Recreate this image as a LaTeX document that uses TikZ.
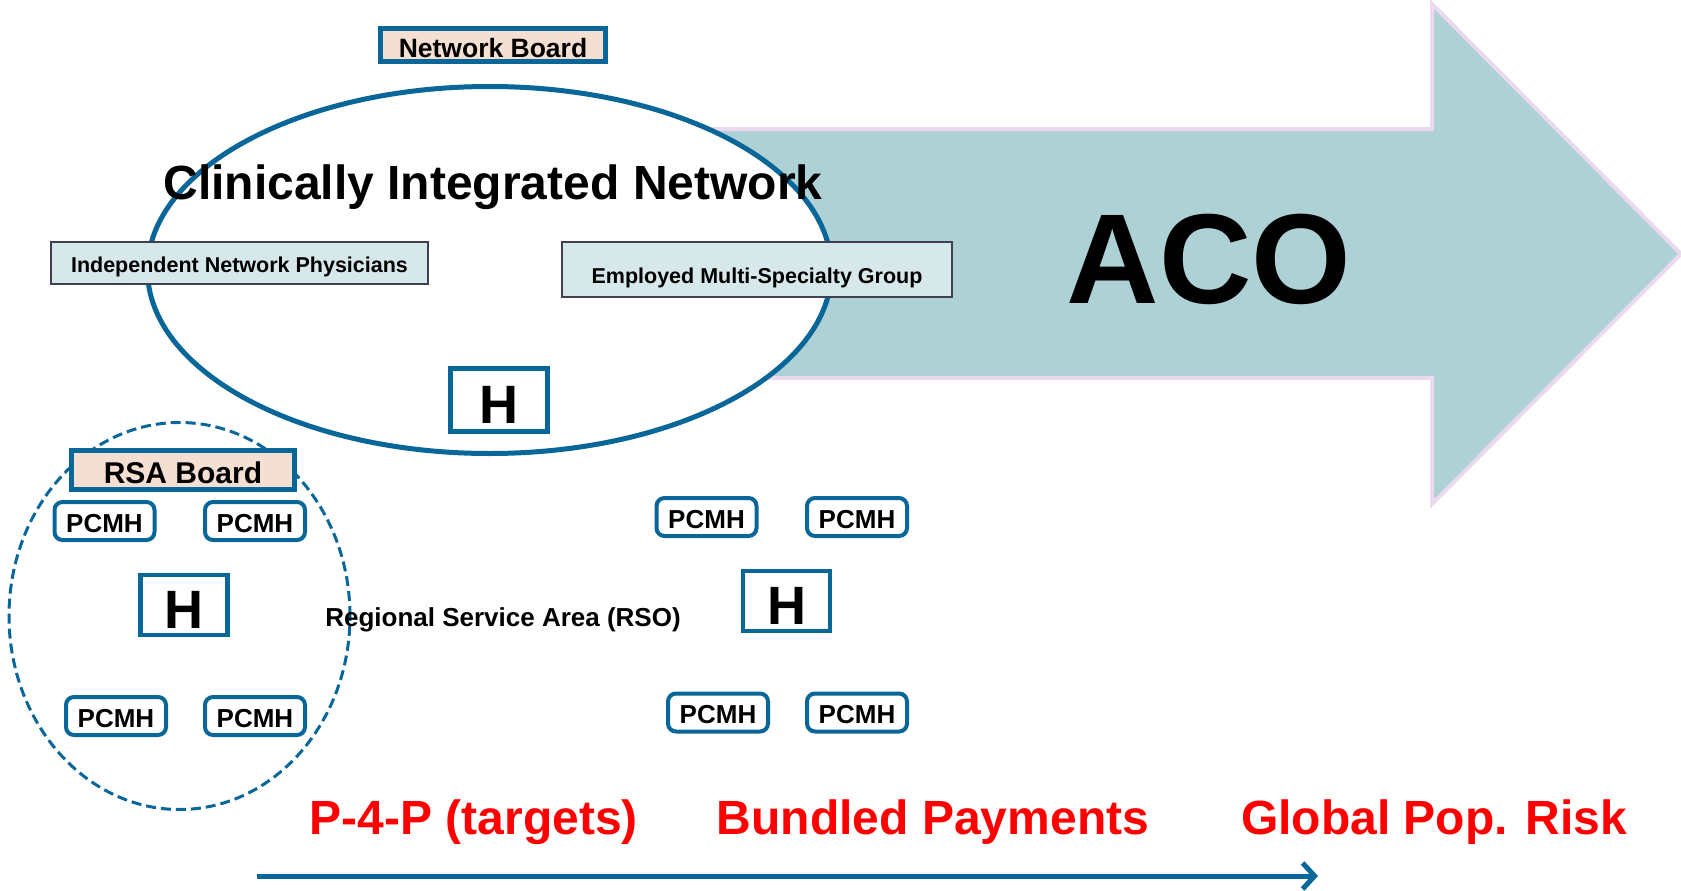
\documentclass[tikz,border=0pt]{standalone}
\usepackage{fontspec}
\setmainfont{Liberation Sans}
\usepackage{xcolor}
\usepackage{tikz}
\usetikzlibrary{shapes.geometric, arrows.meta, positioning}

\definecolor{cinblue}{RGB}{8,102,153}
\definecolor{boardfill}{RGB}{245,222,210}
\definecolor{groupfill}{RGB}{214,232,234}
\definecolor{groupline}{RGB}{64,64,80}
\definecolor{acofill}{RGB}{173,209,213}
\definecolor{acoline}{RGB}{235,218,238}
\definecolor{payred}{RGB}{255,0,0}

\begin{document}
\begin{tikzpicture}[
    x=1pt, y=-1pt,
    board/.style={rectangle, draw=cinblue, line width=4.5pt, fill=boardfill, inner sep=0pt, text depth=0pt, font=\bfseries\fontsize{26.5}{30}\selectfont},
    group/.style={rectangle, draw=groupline, line width=2pt, fill=groupfill, inner sep=0pt, text depth=0pt, font=\bfseries\fontsize{21.5}{25}\selectfont},
    pcmh/.style={rectangle, rounded corners=8pt, draw=cinblue, line width=4pt, fill=white, minimum width=100pt, minimum height=38pt, inner sep=0pt, text height=22pt, text depth=0pt, font=\bfseries\fontsize{26}{30}\selectfont},
    hosp/.style={rectangle, draw=cinblue, line width=4.5pt, fill=white, minimum width=87pt, minimum height=60pt, inner sep=0pt, text height=46pt, text depth=0pt, font=\bfseries\fontsize{54}{60}\selectfont},
    payment/.style={text=payred, anchor=base, inner sep=0pt, font=\bfseries\fontsize{48}{56}\selectfont},
    arrow/.style={-{Straight Barb[length=12pt, width=26pt]}, line width=5pt, draw=cinblue}
]
\useasboundingbox (0,0) rectangle (1681,891);

% ACO arrow (sits behind the network)
\filldraw[fill=acofill, draw=acoline, line width=4pt, line join=miter]
    (600,129) -- (1432,129) -- (1432,4) -- (1681,254) -- (1432,504) -- (1432,378) -- (600,378) -- cycle;
\node[font=\bfseries\fontsize{128}{140}\selectfont] (aco) at (1209,259) {ACO};

% Clinically Integrated Network
\node[ellipse, draw=cinblue, line width=5pt, fill=white, minimum width=684pt, minimum height=367pt, inner sep=0pt] (cin) at (489.5,270) {};
\node[board, minimum width=225pt, minimum height=33pt, text height=24.5pt] (netboard) at (493,45) {Network Board};
\node[font=\bfseries\fontsize{48}{56}\selectfont] (cintitle) at (493,187) {Clinically Integrated Network};
\node[group, minimum width=377pt, minimum height=42pt, text height=18.5pt] (indep) at (239.5,263) {Independent Network Physicians};
\node[group, minimum width=390pt, minimum height=55pt, text height=27pt] (employed) at (757,269.5) {Employed Multi-Specialty Group};
\node[hosp, minimum width=97pt, minimum height=63pt] (hcin) at (499,400) {H};

% Regional Service Area
\node[ellipse, draw=cinblue, line width=3pt, dash pattern=on 10pt off 5pt, minimum width=341pt, minimum height=387pt, inner sep=0pt] (rsa) at (179.5,616) {};
\node[board, minimum width=223pt, minimum height=39pt, text height=27.5pt, font=\bfseries\fontsize{30}{34}\selectfont] (rsaboard) at (183,470) {RSA Board};
\node[pcmh] (pcmhA) at (104.5,521) {PCMH};
\node[pcmh, right of=pcmhA, node distance=150.5pt] (pcmhB) {PCMH};
\node[hosp] (hrsa) at (184,605) {H};
\node[pcmh] (pcmhC) at (116,716) {PCMH};
\node[pcmh, right of=pcmhC, node distance=139pt] (pcmhD) {PCMH};
\node[font=\bfseries\fontsize{26}{30}\selectfont] (rso) at (503,620) {Regional Service Area (RSO)};

% Second service area
\node[pcmh] (pcmhE) at (706.5,517) {PCMH};
\node[pcmh, right of=pcmhE, node distance=150.5pt] (pcmhF) {PCMH};
\node[hosp] (hright) at (786.5,601) {H};
\node[pcmh] (pcmhG) at (718,712.5) {PCMH};
\node[pcmh, right of=pcmhG, node distance=139pt] (pcmhH) {PCMH};

% Payment models
\node[payment] (p4p) at (474,834) {P-4-P (targets)};
\node[payment] (bundled) at (933,834) {Bundled Payments};
\node[payment] (global) at (1434,834) {Global Pop. Risk};

\coordinate (riskstart) at (257,876);
\coordinate (riskend) at (1318,876);
\draw[arrow] (riskstart) -- (riskend);

\end{tikzpicture}
\end{document}
